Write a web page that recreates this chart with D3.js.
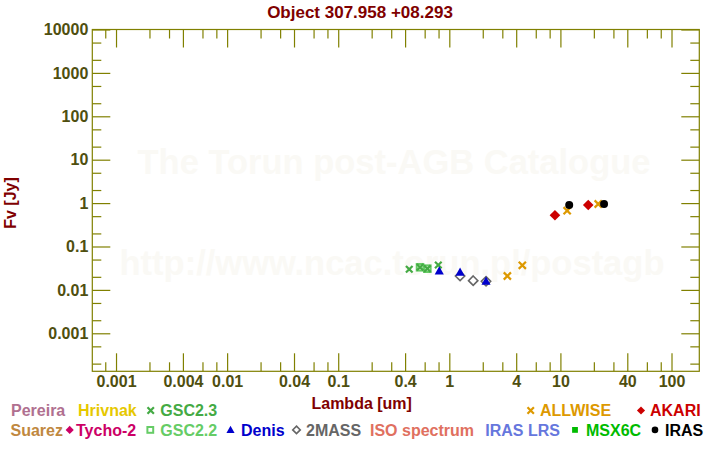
<!DOCTYPE html>
<html>
<head>
<meta charset="utf-8">
<script src="https://cdn.jsdelivr.net/npm/d3@7"></script>
<style>
  html, body { margin: 0; padding: 0; background: #ffffff; }
  svg { display: block; font-family: "Liberation Sans", Arial, sans-serif; font-weight: bold; }
</style>
</head>
<body>
<svg id="chart" width="720" height="450"></svg>
<script>
// ---------------- data ----------------
const titleText = "Object 307.958 +08.293";
const xLabelText = "Lambda [um]";
const yLabelText = "Fv [Jy]";
const watermark1 = "The Torun post-AGB Catalogue";
const watermark2 = "http://www.ncac.torun.pl/postagb";

const xTickMajor = [0.001, 0.004, 0.01, 0.04, 0.1, 0.4, 1, 4, 10, 40, 100];
const xTickLabels = ["0.001", "0.004", "0.01", "0.04", "0.1", "0.4", "1", "4", "10", "40", "100"];
const xTickMinor = [0.0008, 0.002, 0.003, 0.006, 0.008, 0.02, 0.03, 0.06, 0.08,
                    0.2, 0.3, 0.6, 0.8, 2, 3, 6, 8, 20, 30, 60, 80];
const yTickMajor = [10000, 1000, 100, 10, 1, 0.1, 0.01, 0.001];
const yTickLabels = ["10000", "1000", "100", "10", "1", "0.1", "0.01", "0.001"];
const yTickMinor = [5000, 2000, 500, 200, 50, 20, 5, 2, 0.5, 0.2, 0.05, 0.02, 0.005, 0.002, 0.0005, 0.0002];

// photometry series (wavelength in um, flux in Jy)
const gsc23Lambda = [0.436, 0.545, 0.634, 0.796];
const gsc23Flux   = [0.0299, 0.0332, 0.0308, 0.0375];
const gsc22Lambda = [0.545, 0.634];
const gsc22Flux   = [0.0332, 0.0308];
const twomassLambda = [1.25, 1.64, 2.14];
const twomassFlux   = [0.0209, 0.0163, 0.0158];
const denisLambda = [0.812, 1.25, 2.14];
const denisFlux   = [0.0272, 0.0254, 0.0158];
const allwiseLambda = [3.33, 4.54, 11.5, 21.9];
const allwiseFlux   = [0.0209, 0.0369, 0.668, 0.953];
const akariLambda = [8.93, 17.8];
const akariFlux   = [0.524, 0.904];
const irasLambda = [12.0, 24.7];
const irasFlux   = [0.904, 0.953];

// legend entries
const legendNames = ["Pereira", "Hrivnak", "GSC2.3", "ALLWISE", "AKARI",
                     "Suarez", "Tycho-2", "GSC2.2", "Denis", "2MASS", "ISO spectrum", "IRAS LRS", "MSX6C", "IRAS"];
const legendSymbols = ["none", "none", "cross", "cross", "diamond",
                       "none", "diamond", "square", "triangle", "odiamond", "none", "none", "fsquare", "circle"];

// ---------------- layout / style ----------------
const colors = {
  "Pereira": "#b07090", "Hrivnak": "#e6c800", "GSC2.3": "#44aa44", "ALLWISE": "#dd9900",
  "AKARI": "#cc0000", "Suarez": "#c08840", "Tycho-2": "#cc0066", "GSC2.2": "#66cc66",
  "Denis": "#0000cc", "2MASS": "#666666", "ISO spectrum": "#e07060", "IRAS LRS": "#6677dd",
  "MSX6C": "#00bb00", "IRAS": "#000000"
};
const legendLayout = [
  [11, 0, null], [78, 0, null], [160.3, 0, 150.7], [540, 0, 530.7], [650, 0, 641],
  [10.5, 1, null], [76, 1, 69.7], [160.3, 1, 150.3], [241, 1, 230.5], [306, 1, 296.5],
  [370, 1, null], [485.3, 1, null], [586, 1, 575], [665, 1, 655]
];
const rowBaseline = [416.3, 435.7];

const L = 92.3, R = 699.3, T = 29.5, B = 371.3;
const axisColor = "#808000";
const tickTextColor = "#4f4f0f";
const labelColor = "#800000";

const svg = d3.select("#chart");

const x = d3.scaleLog().domain([6.116e-4, 177.9]).range([L, R]);
const y = d3.scaleLog().domain([1.331e-4, 1e4]).range([B, T]);

// watermark
svg.append("text").attr("x", 394).attr("y", 174).attr("text-anchor", "middle")
  .attr("font-size", 34.5).attr("fill", "#faf9f5").text(watermark1);
svg.append("text").attr("x", 392).attr("y", 275).attr("text-anchor", "middle")
  .attr("font-size", 34.5).attr("fill", "#faf9f5").text(watermark2);

// axes
function styleAxis(g) {
  g.select(".domain").remove();
  g.selectAll(".tick line").attr("stroke", axisColor).attr("stroke-width", 1.2);
  g.selectAll(".tick text").attr("fill", tickTextColor)
    .attr("font-size", 16).attr("font-weight", "bold")
    .attr("font-family", "'Liberation Sans', Arial, sans-serif");
}
const fmtX = d => xTickLabels[xTickMajor.indexOf(d)];
const fmtY = d => yTickLabels[yTickMajor.indexOf(d)];

svg.append("g").attr("transform", `translate(0,${B})`)
  .call(d3.axisBottom(x).tickValues(xTickMajor).tickFormat(fmtX).tickSizeInner(-18).tickSizeOuter(0).tickPadding(4))
  .call(styleAxis);
svg.append("g").attr("transform", `translate(0,${B})`)
  .call(d3.axisBottom(x).tickValues(xTickMinor).tickFormat("").tickSizeInner(-9).tickSizeOuter(0))
  .call(styleAxis);
svg.append("g").attr("transform", `translate(0,${T})`)
  .call(d3.axisTop(x).tickValues(xTickMajor).tickFormat("").tickSizeInner(-18).tickSizeOuter(0))
  .call(styleAxis);
svg.append("g").attr("transform", `translate(0,${T})`)
  .call(d3.axisTop(x).tickValues(xTickMinor).tickFormat("").tickSizeInner(-9).tickSizeOuter(0))
  .call(styleAxis);

svg.append("g").attr("transform", `translate(${L},0)`)
  .call(d3.axisLeft(y).tickValues(yTickMajor).tickFormat(fmtY).tickSizeInner(-18).tickSizeOuter(0).tickPadding(4))
  .call(styleAxis);
svg.append("g").attr("transform", `translate(${L},0)`)
  .call(d3.axisLeft(y).tickValues(yTickMinor).tickFormat("").tickSizeInner(-9).tickSizeOuter(0))
  .call(styleAxis);
svg.append("g").attr("transform", `translate(${R},0)`)
  .call(d3.axisRight(y).tickValues(yTickMajor).tickFormat("").tickSizeInner(-18).tickSizeOuter(0))
  .call(styleAxis);
svg.append("g").attr("transform", `translate(${R},0)`)
  .call(d3.axisRight(y).tickValues(yTickMinor).tickFormat("").tickSizeInner(-9).tickSizeOuter(0))
  .call(styleAxis);

// frame
svg.append("rect").attr("x", L).attr("y", T).attr("width", R - L).attr("height", B - T)
  .attr("fill", "none").attr("stroke", axisColor).attr("stroke-width", 1.2);

// title and axis labels
svg.append("text").attr("x", 360).attr("y", 18).attr("text-anchor", "middle")
  .attr("font-size", 17).attr("fill", labelColor).text(titleText);
svg.append("text").attr("x", 361.7).attr("y", 409).attr("text-anchor", "middle")
  .attr("font-size", 16).attr("fill", labelColor).text(xLabelText);
svg.append("text").attr("transform", "translate(15.5,203) rotate(-90)").attr("text-anchor", "middle")
  .attr("font-size", 16).attr("fill", labelColor).text(yLabelText);

// symbol drawing
function drawSymbol(g, type, cx, cy, color, s) {
  if (type === "cross") {
    g.append("path").attr("d", `M${cx - s},${cy - s}L${cx + s},${cy + s}M${cx - s},${cy + s}L${cx + s},${cy - s}`)
      .attr("stroke", color).attr("stroke-width", 2.2).attr("fill", "none");
  } else if (type === "diamond") {
    g.append("path").attr("d", `M${cx},${cy - s * 1.4}L${cx + s * 1.4},${cy}L${cx},${cy + s * 1.4}L${cx - s * 1.4},${cy}Z`)
      .attr("fill", color);
  } else if (type === "odiamond") {
    g.append("path").attr("d", `M${cx},${cy - s * 1.3}L${cx + s * 1.3},${cy}L${cx},${cy + s * 1.3}L${cx - s * 1.3},${cy}Z`)
      .attr("fill", "none").attr("stroke", color).attr("stroke-width", 1.6);
  } else if (type === "square") {
    g.append("rect").attr("x", cx - s).attr("y", cy - s).attr("width", 2 * s).attr("height", 2 * s)
      .attr("fill", "none").attr("stroke", color).attr("stroke-width", 2);
  } else if (type === "fsquare") {
    g.append("rect").attr("x", cx - s).attr("y", cy - s).attr("width", 2 * s).attr("height", 2 * s)
      .attr("fill", color);
  } else if (type === "triangle") {
    g.append("path").attr("d", `M${cx},${cy - s * 1.25}L${cx + s * 1.2},${cy + s * 0.9}L${cx - s * 1.2},${cy + s * 0.9}Z`)
      .attr("fill", color);
  } else if (type === "circle") {
    g.append("circle").attr("cx", cx).attr("cy", cy).attr("r", s).attr("fill", color);
  }
}

// data points
const marks = svg.append("g");
const series = [
  ["GSC2.2", "square", gsc22Lambda, gsc22Flux, 3.3],
  ["GSC2.3", "cross", gsc23Lambda, gsc23Flux, 3.3],
  ["2MASS", "odiamond", twomassLambda, twomassFlux, 3.6],
  ["Denis", "triangle", denisLambda, denisFlux, 3.8],
  ["ALLWISE", "cross", allwiseLambda, allwiseFlux, 3.6],
  ["AKARI", "diamond", akariLambda, akariFlux, 3.8],
  ["IRAS", "circle", irasLambda, irasFlux, 4]
];
series.forEach(([name, sym, lam, flux, s]) => {
  lam.forEach((l, i) => drawSymbol(marks, sym, x(l), y(flux[i]), colors[name], s));
});

// legend
const leg = svg.append("g");
legendNames.forEach((name, i) => {
  const [tx, row, sx] = legendLayout[i];
  const base = rowBaseline[row];
  leg.append("text").attr("x", tx).attr("y", base).attr("font-size", 16)
    .attr("fill", colors[name]).text(name);
  if (sx !== null && legendSymbols[i] !== "none") {
    const sym = legendSymbols[i];
    const s = sym === "cross" ? 3.2 : sym === "circle" ? 3.3 : sym === "triangle" ? 3.4 : 2.9;
    drawSymbol(leg, sym, sx, base - 5.8, colors[name], s);
  }
});
</script>
</body>
</html>
